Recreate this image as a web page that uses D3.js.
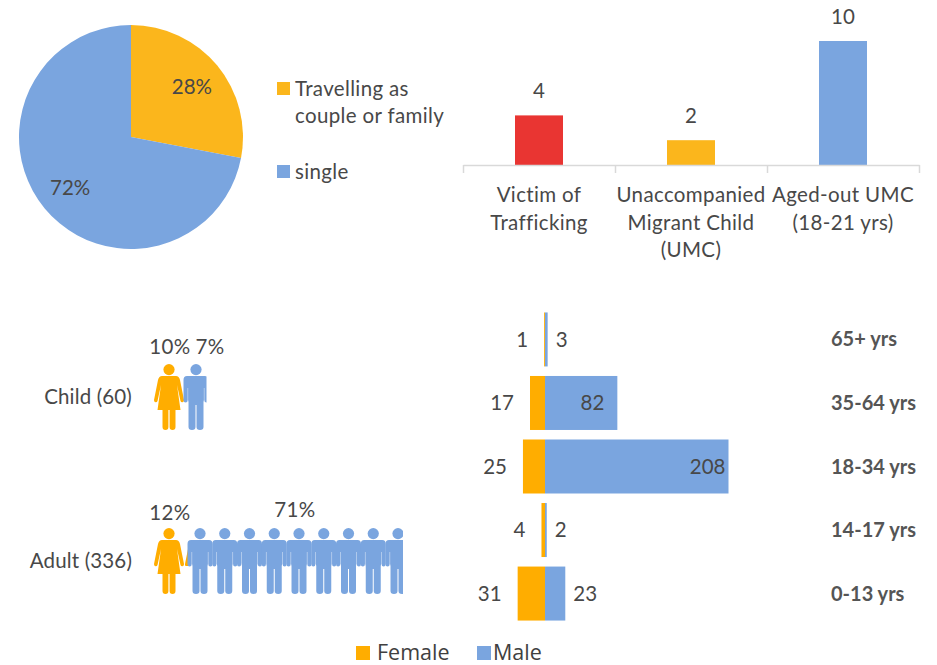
<!DOCTYPE html>
<html>
<head>
<meta charset="utf-8">
<script src="https://cdn.jsdelivr.net/npm/d3@7"></script>
<style>
  html, body { margin: 0; padding: 0; background: #fff; }
  svg { display: block; }
  text { font-family: Lato, "Open Sans", sans-serif; font-size: 20.5px; letter-spacing: 0.35px; fill: #484848; }
  .num { letter-spacing: 0; }
  .group { letter-spacing: 0.15px; }
  .age { font-weight: 700; font-size: 20px; letter-spacing: 0; fill: #555; }
  .legend2 { font-family: "Open Sans", sans-serif; font-size: 21.5px; letter-spacing: 0; fill: #404040; }
</style>
</head>
<body>
<div id="chart"></div>
<script>
  // pie
  var pieKeys = ["couple", "single"];
  var pieValues = [28, 72];
  var pieLegend = [["Travelling as", "couple or family"], ["single"]];

  // top bars
  var profileCats = [["Victim of", "Trafficking"], ["Unaccompanied", "Migrant Child", "(UMC)"], ["Aged-out UMC", "(18-21 yrs)"]];
  var profileValues = [4, 2, 10];

  // age pyramid
  var ageGroups = ["65+ yrs", "35-64 yrs", "18-34 yrs", "14-17 yrs", "0-13 yrs"];
  var femaleValues = [1, 17, 25, 4, 31];
  var maleValues = [3, 82, 208, 2, 23];

  // pictograms
  var pictoGroups = ["Child (60)", "Adult (336)"];
  var pictoFemalePct = ["10%", "12%"];
  var pictoMalePct = ["7%", "71%"];
  var pictoFemaleIcons = [1, 2];
  var pictoMaleIcons = [1, 9];

  var legendKeys = ["Female", "Male"];

  var orange = "#FBB61C", blue = "#7AA5DF", red = "#E93532", orange2 = "#FFAD00";

  var svg = d3.select("#chart").append("svg")
      .attr("width", 937)
      .attr("height", 665);

  ////// pie //////////////////////////////
  var pie = d3.pie().sort(null);
  var arc = d3.arc().innerRadius(0).outerRadius(112);
  var labelArc = d3.arc().innerRadius(79).outerRadius(79);
  var pieG = svg.append("g").attr("transform", "translate(131,137)");

  pieG.selectAll("path")
      .data(pie(pieValues))
      .enter().append("path")
      .attr("d", arc)
      .attr("fill", function(d, i) { return i == 0 ? orange : blue; });

  pieG.selectAll("text")
      .data(pie(pieValues))
      .enter().append("text")
      .attr("class", "num")
      .attr("transform", function(d) { return "translate(" + labelArc.centroid(d) + ")"; })
      .attr("text-anchor", "middle")
      .attr("dy", "0.35em")
      .text(function(d) { return d.value + "%"; });

  var pieLegendY = d3.scalePoint().domain(pieKeys).range([89, 172]);
  var pieLeg = svg.append("g").selectAll("g")
      .data(pieLegend)
      .enter().append("g")
      .attr("transform", function(d, i) { return "translate(0," + pieLegendY(pieKeys[i]) + ")"; });
  pieLeg.append("rect")
      .attr("x", 277).attr("y", -7)
      .attr("width", 13).attr("height", 13)
      .attr("fill", function(d, i) { return i == 0 ? orange : blue; });
  pieLeg.append("text")
      .attr("y", 7)
      .selectAll("tspan")
      .data(function(d) { return d; })
      .enter().append("tspan")
      .attr("x", 295)
      .attr("dy", function(d, i) { return i == 0 ? 0 : 27; })
      .text(function(d) { return d; });

  ////// top bars /////////////////////////
  var profileIdx = d3.range(profileValues.length);
  var xTop = d3.scaleBand().domain(profileIdx).range([463, 919]).paddingInner(0).paddingOuter(0);
  var xTopEdge = d3.scaleLinear().domain([0, profileValues.length]).range([463, 919]);
  var yTop = d3.scaleLinear().domain([0, 10]).range([165, 41]);
  var barW = 48;
  var topColors = [red, orange, blue];

  svg.append("g").selectAll("rect")
      .data(profileValues)
      .enter().append("rect")
      .attr("x", function(d, i) { return xTop(i) + (xTop.bandwidth() - barW) / 2; })
      .attr("y", function(d) { return yTop(d); })
      .attr("width", barW)
      .attr("height", function(d) { return yTop(0) - yTop(d); })
      .attr("fill", function(d, i) { return topColors[i]; });

  svg.append("g").selectAll("text")
      .data(profileValues)
      .enter().append("text")
      .attr("class", "num")
      .attr("x", function(d, i) { return xTop(i) + xTop.bandwidth() / 2; })
      .attr("y", function(d) { return yTop(d) - 17; })
      .attr("text-anchor", "middle")
      .text(function(d) { return d; });

  var axisTop = svg.append("g")
      .attr("transform", "translate(0,165)")
      .call(d3.axisBottom(xTopEdge).tickValues(d3.range(profileValues.length + 1)).tickFormat("").tickSize(8).tickSizeOuter(0));
  axisTop.selectAll("line, path").attr("stroke", "#D9D9D9").attr("stroke-width", 1.5);

  svg.append("g").selectAll("text")
      .data(profileCats)
      .enter().append("text")
      .attr("y", 202)
      .attr("text-anchor", "middle")
      .selectAll("tspan")
      .data(function(d, i) { return d.map(function(t) { return {t: t, i: i}; }); })
      .enter().append("tspan")
      .attr("x", function(d) { return xTop(d.i) + xTop.bandwidth() / 2; })
      .attr("dy", function(d, j) { return j == 0 ? 0 : 27.5; })
      .text(function(d) { return d.t; });

  ////// age pyramid //////////////////////
  var yAge = d3.scaleBand().domain(ageGroups).range([308, 625]).paddingInner(0.15).paddingOuter(0.07);
  var xAge = d3.scaleLinear().domain([0, 208]).range([545, 728.5]);
  var insideGap = {82: 13, 208: 3};

  svg.append("g").selectAll("rect")
      .data(femaleValues)
      .enter().append("rect")
      .attr("x", function(d) { return xAge(-d); })
      .attr("y", function(d, i) { return yAge(ageGroups[i]); })
      .attr("width", function(d) { return xAge(d) - xAge(0); })
      .attr("height", yAge.bandwidth())
      .attr("fill", orange2);

  svg.append("g").selectAll("rect")
      .data(maleValues)
      .enter().append("rect")
      .attr("x", xAge(0))
      .attr("y", function(d, i) { return yAge(ageGroups[i]); })
      .attr("width", function(d) { return xAge(d) - xAge(0); })
      .attr("height", yAge.bandwidth())
      .attr("fill", blue);

  svg.append("g").selectAll("text")
      .data(femaleValues)
      .enter().append("text")
      .attr("class", "num")
      .attr("x", function(d) { return xAge(-d) - 16; })
      .attr("y", function(d, i) { return yAge(ageGroups[i]) + yAge.bandwidth() / 2; })
      .attr("dy", "0.35em")
      .attr("text-anchor", "end")
      .text(function(d) { return d; });

  svg.append("g").selectAll("text")
      .data(maleValues)
      .enter().append("text")
      .attr("class", "num")
      .attr("x", function(d) { return insideGap[d] ? xAge(d) - insideGap[d] : xAge(d) + 8; })
      .attr("y", function(d, i) { return yAge(ageGroups[i]) + yAge.bandwidth() / 2; })
      .attr("dy", "0.35em")
      .attr("text-anchor", function(d) { return insideGap[d] ? "end" : "start"; })
      .text(function(d) { return d; });

  svg.append("g").selectAll("text")
      .data(ageGroups)
      .enter().append("text")
      .attr("class", "age")
      .attr("x", 831)
      .attr("y", function(d) { return yAge(d) + yAge.bandwidth() / 2; })
      .attr("dy", "0.35em")
      .text(function(d) { return d; });

  ////// pictograms ///////////////////////
  // icons sit on a 66px tall box, x=0 is the middle of the figure
  var maleBody = "M-9,12 H9 Q12.5,12 12.5,16 V36 Q12.5,38.5 10.4,38.5 Q8.3,38.5 8.3,36 V24 H7.9 V36 L7.5,38 V63 Q7.5,66 4,66 Q0.5,66 0.5,63 V41 H-0.5 V63 Q-0.5,66 -4,66 Q-7.5,66 -7.5,63 V38 L-7.9,36 V24 H-8.3 V36 Q-8.3,38.5 -10.4,38.5 Q-12.5,38.5 -12.5,36 V16 Q-12.5,12 -9,12 Z";
  var femaleBody = "M-7,12 H7 Q10,12 11,16 L15,36 Q15.2,38 13.5,38.3 Q12,38.5 11.5,37 L8,21 L11.5,46 H6.5 V63 Q6.5,66 3.5,66 Q0.6,66 0.6,63 V46 H-0.6 V63 Q-0.6,66 -3.5,66 Q-6.5,66 -6.5,63 V46 H-11.5 L-8,21 L-11.5,37 Q-12,38.5 -13.5,38.3 Q-15.2,38 -15,36 L-11,16 Q-10,12 -7,12 Z";
  var headR = 5.6;

  var pictoY = d3.scalePoint().domain(pictoGroups).range([364, 528]);
  var femaleX = d3.scaleLinear().domain([0, 1]).range([169, 200]);
  var maleStart = [196, 200];
  var maleX = d3.scaleLinear().domain([0, 8]).range([0, 198]);
  var clipRight = [206.5, 403];

  var defs = svg.append("defs");
  // the second adult woman only peeks out behind the first man
  defs.append("clipPath").attr("id", "peek")
    .append("rect").attr("x", 180).attr("y", 520).attr("width", 10).attr("height", 46);

  pictoGroups.forEach(function(g, k) {
    defs.append("clipPath").attr("id", "pclip" + k)
      .append("rect")
      .attr("x", 140).attr("y", pictoY(g) - 2)
      .attr("width", clipRight[k] - 140).attr("height", 72);

    var row = svg.append("g").attr("clip-path", "url(#pclip" + k + ")");

    function icon(x, body, col, clip) {
      var ic = row.append("g").attr("clip-path", clip || null)
        .append("g").attr("transform", "translate(" + x + "," + pictoY(g) + ")");
      ic.append("circle").attr("cy", headR).attr("r", headR).attr("fill", col);
      ic.append("path").attr("d", body).attr("fill", col);
    }
    d3.range(pictoFemaleIcons[k]).forEach(function(i) { icon(femaleX(i), femaleBody, orange2, i > 0 ? "url(#peek)" : null); });
    d3.range(pictoMaleIcons[k]).forEach(function(i) { icon(maleStart[k] + maleX(i), maleBody, blue); });

    svg.append("text")
      .attr("class", "group")
      .attr("x", 132)
      .attr("y", pictoY(g) + 33)
      .attr("dy", "0.35em")
      .attr("text-anchor", "end")
      .text(g);
  });

  // percent labels
  var pctY = [347, 513];
  var pctMaleX = [210, 295];
  svg.append("g").selectAll("text")
      .data(pictoFemalePct)
      .enter().append("text")
      .attr("x", 170)
      .attr("y", function(d, i) { return pctY[i]; })
      .attr("dy", "0.35em")
      .attr("text-anchor", "middle")
      .text(function(d) { return d; });
  svg.append("g").selectAll("text")
      .data(pictoMalePct)
      .enter().append("text")
      .attr("x", function(d, i) { return pctMaleX[i]; })
      .attr("y", function(d, i) { return pctY[i] - (i == 1 ? 3 : 0); })
      .attr("dy", "0.35em")
      .attr("text-anchor", "middle")
      .text(function(d) { return d; });

  ////// bottom legend ////////////////////
  var legSquareX = d3.scalePoint().domain(legendKeys).range([356, 477]);
  var leg = svg.append("g").selectAll("g")
      .data(legendKeys)
      .enter().append("g")
      .attr("transform", function(d) { return "translate(" + legSquareX(d) + ",646)"; });
  leg.append("rect")
      .attr("width", 14).attr("height", 14)
      .attr("fill", function(d, i) { return i == 0 ? orange2 : blue; });
  leg.append("text")
      .attr("class", "legend2")
      .attr("x", function(d, i) { return i == 0 ? 21 : 16; })
      .attr("y", 14)
      .text(function(d) { return d; });
</script>
</body>
</html>
